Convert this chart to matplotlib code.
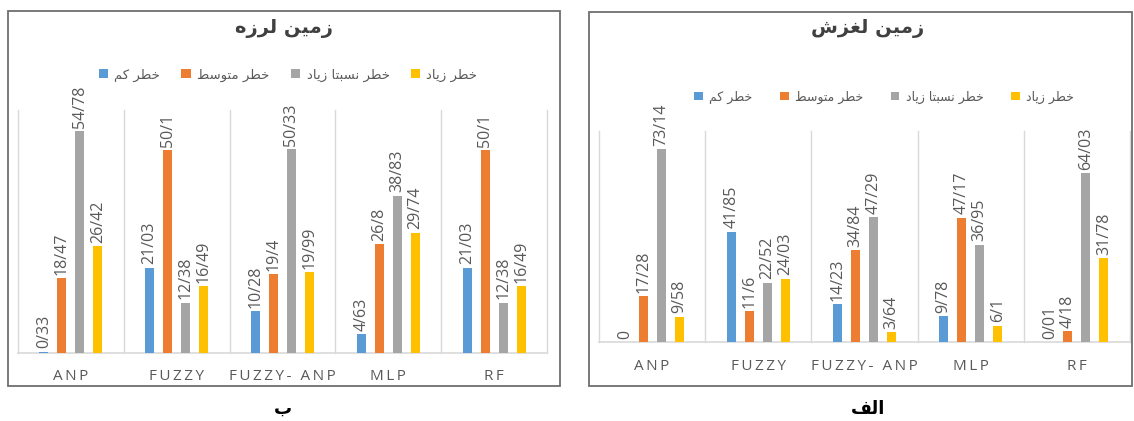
import matplotlib
matplotlib.use("Agg")
import matplotlib.pyplot as plt
from matplotlib.patches import Rectangle
from matplotlib.transforms import blended_transform_factory

# ---------------- data ----------------
categories = ["ANP", "FUZZY", "FUZZY- ANP", "MLP", "RF"]
series_names = ["خطر کم", "خطر متوسط", "خطر نسبتا زیاد", "خطر زیاد"]
colors = ["#5B9BD5", "#ED7D31", "#A5A5A5", "#FFC000"]

# earthquake (ب)
eq_low = [0.33, 21.03, 10.28, 4.63, 21.03]
eq_mid = [18.47, 50.1, 19.4, 26.8, 50.1]
eq_relhigh = [54.78, 12.38, 50.33, 38.83, 12.38]
eq_high = [26.42, 16.49, 19.99, 29.74, 16.49]

# landslide (الف)
ls_low = [0, 41.85, 14.23, 9.78, 0.01]
ls_mid = [17.28, 11.6, 34.84, 47.17, 4.18]
ls_relhigh = [73.14, 22.52, 47.29, 36.95, 64.03]
ls_high = [9.58, 24.03, 3.64, 6.1, 31.78]

title_eq = "زمین لرزه"
title_ls = "زمین لغزش"
caption_eq = "ب"
caption_ls = "الف"

# ------------- minimal Arabic/Persian shaping -------------
# char: (isolated, final, initial, medial) ; None for right-joining letters
FORMS = {
    "ا": ("\uFE8D", "\uFE8E", None, None),
    "ب": ("\uFE8F", "\uFE90", "\uFE91", "\uFE92"),
    "ت": ("\uFE95", "\uFE96", "\uFE97", "\uFE98"),
    "خ": ("\uFEA5", "\uFEA6", "\uFEA7", "\uFEA8"),
    "د": ("\uFEA9", "\uFEAA", None, None),
    "ر": ("\uFEAD", "\uFEAE", None, None),
    "ز": ("\uFEAF", "\uFEB0", None, None),
    "س": ("\uFEB1", "\uFEB2", "\uFEB3", "\uFEB4"),
    "ش": ("\uFEB5", "\uFEB6", "\uFEB7", "\uFEB8"),
    "ط": ("\uFEC1", "\uFEC2", "\uFEC3", "\uFEC4"),
    "غ": ("\uFECD", "\uFECE", "\uFECF", "\uFED0"),
    "ف": ("\uFED1", "\uFED2", "\uFED3", "\uFED4"),
    "ک": ("\uFB8E", "\uFB8F", "\uFB90", "\uFB91"),
    "ل": ("\uFEDD", "\uFEDE", "\uFEDF", "\uFEE0"),
    "م": ("\uFEE1", "\uFEE2", "\uFEE3", "\uFEE4"),
    "ن": ("\uFEE5", "\uFEE6", "\uFEE7", "\uFEE8"),
    "ه": ("\uFEE9", "\uFEEA", "\uFEEB", "\uFEEC"),
    "و": ("\uFEED", "\uFEEE", None, None),
    "ی": ("\uFBFC", "\uFBFD", "\uFBFE", "\uFBFF"),
}


def dual(c):
    return c in FORMS and FORMS[c][2] is not None


def shape(s):
    out = []
    for i, c in enumerate(s):
        if c not in FORMS:
            out.append(c)
            continue
        prev = s[i - 1] if i > 0 else ""
        nxt = s[i + 1] if i + 1 < len(s) else ""
        jp = dual(prev)
        jn = dual(c) and nxt in FORMS
        iso, fin, ini, med = FORMS[c]
        if jp and jn:
            out.append(med)
        elif jp:
            out.append(fin)
        elif jn:
            out.append(ini)
        else:
            out.append(iso)
    return "".join(reversed(out))


def fmt(v):
    return f"{v:g}".replace(".", "/")


def spaced(s):
    return "\u2009".join(s)


W, H = 1134, 421
fig = plt.figure(figsize=(W / 100, H / 100), dpi=100)
fig.patch.set_facecolor("white")

LABEL_C = "#595959"
GRID_C = "#D9D9D9"
NUM_FONT = ["Open Sans", "DejaVu Sans"]


def fx(p):
    return p / W


def fy(p):
    return 1 - p / H


def panel(box, ax_px, ymax, data, title, title_xy, leg_xy, leg_fs, colsp,
          cat_y, caption, cap_xy):
    # outer frame
    x0, y0, x1, y1 = box
    fig.add_artist(Rectangle((fx(x0), fy(y1)), fx(x1) - fx(x0), fy(y0) - fy(y1),
                             transform=fig.transFigure, fill=False,
                             edgecolor="#6E6E6E", linewidth=1.3))
    l, b, r, t = ax_px
    ax = fig.add_axes([fx(l), fy(b), fx(r) - fx(l), fy(t) - fy(b)])
    ax.set_xlim(-0.5, len(categories) - 0.5)
    ax.set_ylim(0, ymax)
    ax.axis("off")
    # category separators & base line
    for k in range(len(categories) + 1):
        ax.plot([k - 0.5, k - 0.5], [0, ymax], color=GRID_C, lw=1.0, zorder=0,
                clip_on=False)
    ax.plot([-0.5, len(categories) - 0.5], [0, 0], color=GRID_C, lw=1.2,
            zorder=1, clip_on=False)
    pitch = 0.17
    width = 0.085
    handles = []
    for j, vals in enumerate(data):
        xs = [i + (j - 1.5) * pitch for i in range(len(categories))]
        bars = ax.bar(xs, vals, width=width, color=colors[j], zorder=2,
                      label=shape(series_names[j]))
        handles.append(bars)
        for xv, v in zip(xs, vals):
            ax.annotate(fmt(v), (xv, v), xytext=(0, 2.5),
                        textcoords="offset points", rotation=90,
                        ha="center", va="bottom", fontsize=11.5,
                        family=NUM_FONT, color=LABEL_C, clip_on=False)
    tr = blended_transform_factory(ax.transData, fig.transFigure)
    for i, c in enumerate(categories):
        ax.text(i, fy(cat_y), spaced(c), transform=tr, ha="center",
                va="center", fontsize=11, family=NUM_FONT, color=LABEL_C)
    fig.text(fx(title_xy[0]), fy(title_xy[1]), shape(title), ha="center",
             va="center", fontsize=14, fontweight="bold", color="#404040")
    fig.legend(handles=handles, loc="center", ncol=4,
               bbox_to_anchor=(fx(leg_xy[0]), fy(leg_xy[1])), frameon=False,
               fontsize=leg_fs, handlelength=0.7, handleheight=0.7,
               handletextpad=0.5, columnspacing=colsp, labelcolor=LABEL_C)
    fig.text(fx(cap_xy[0]), fy(cap_xy[1]), shape(caption), ha="center",
             va="center", fontsize=13, fontweight="bold", color="black")
    return ax


panel((8, 11, 560, 386), (18, 353, 547, 110), 60,
      [eq_low, eq_mid, eq_relhigh, eq_high], title_eq, (284, 28), (288, 75),
      9.5, 1.6, 376, caption_eq, (283, 409))

panel((589, 12, 1132, 386), (599, 342, 1130, 131), 80,
      [ls_low, ls_mid, ls_relhigh, ls_high], title_ls, (868, 28), (884, 97),
      9, 2.2, 367, caption_ls, (868, 409))

fig.savefig("out.png", dpi=100, facecolor="white")
